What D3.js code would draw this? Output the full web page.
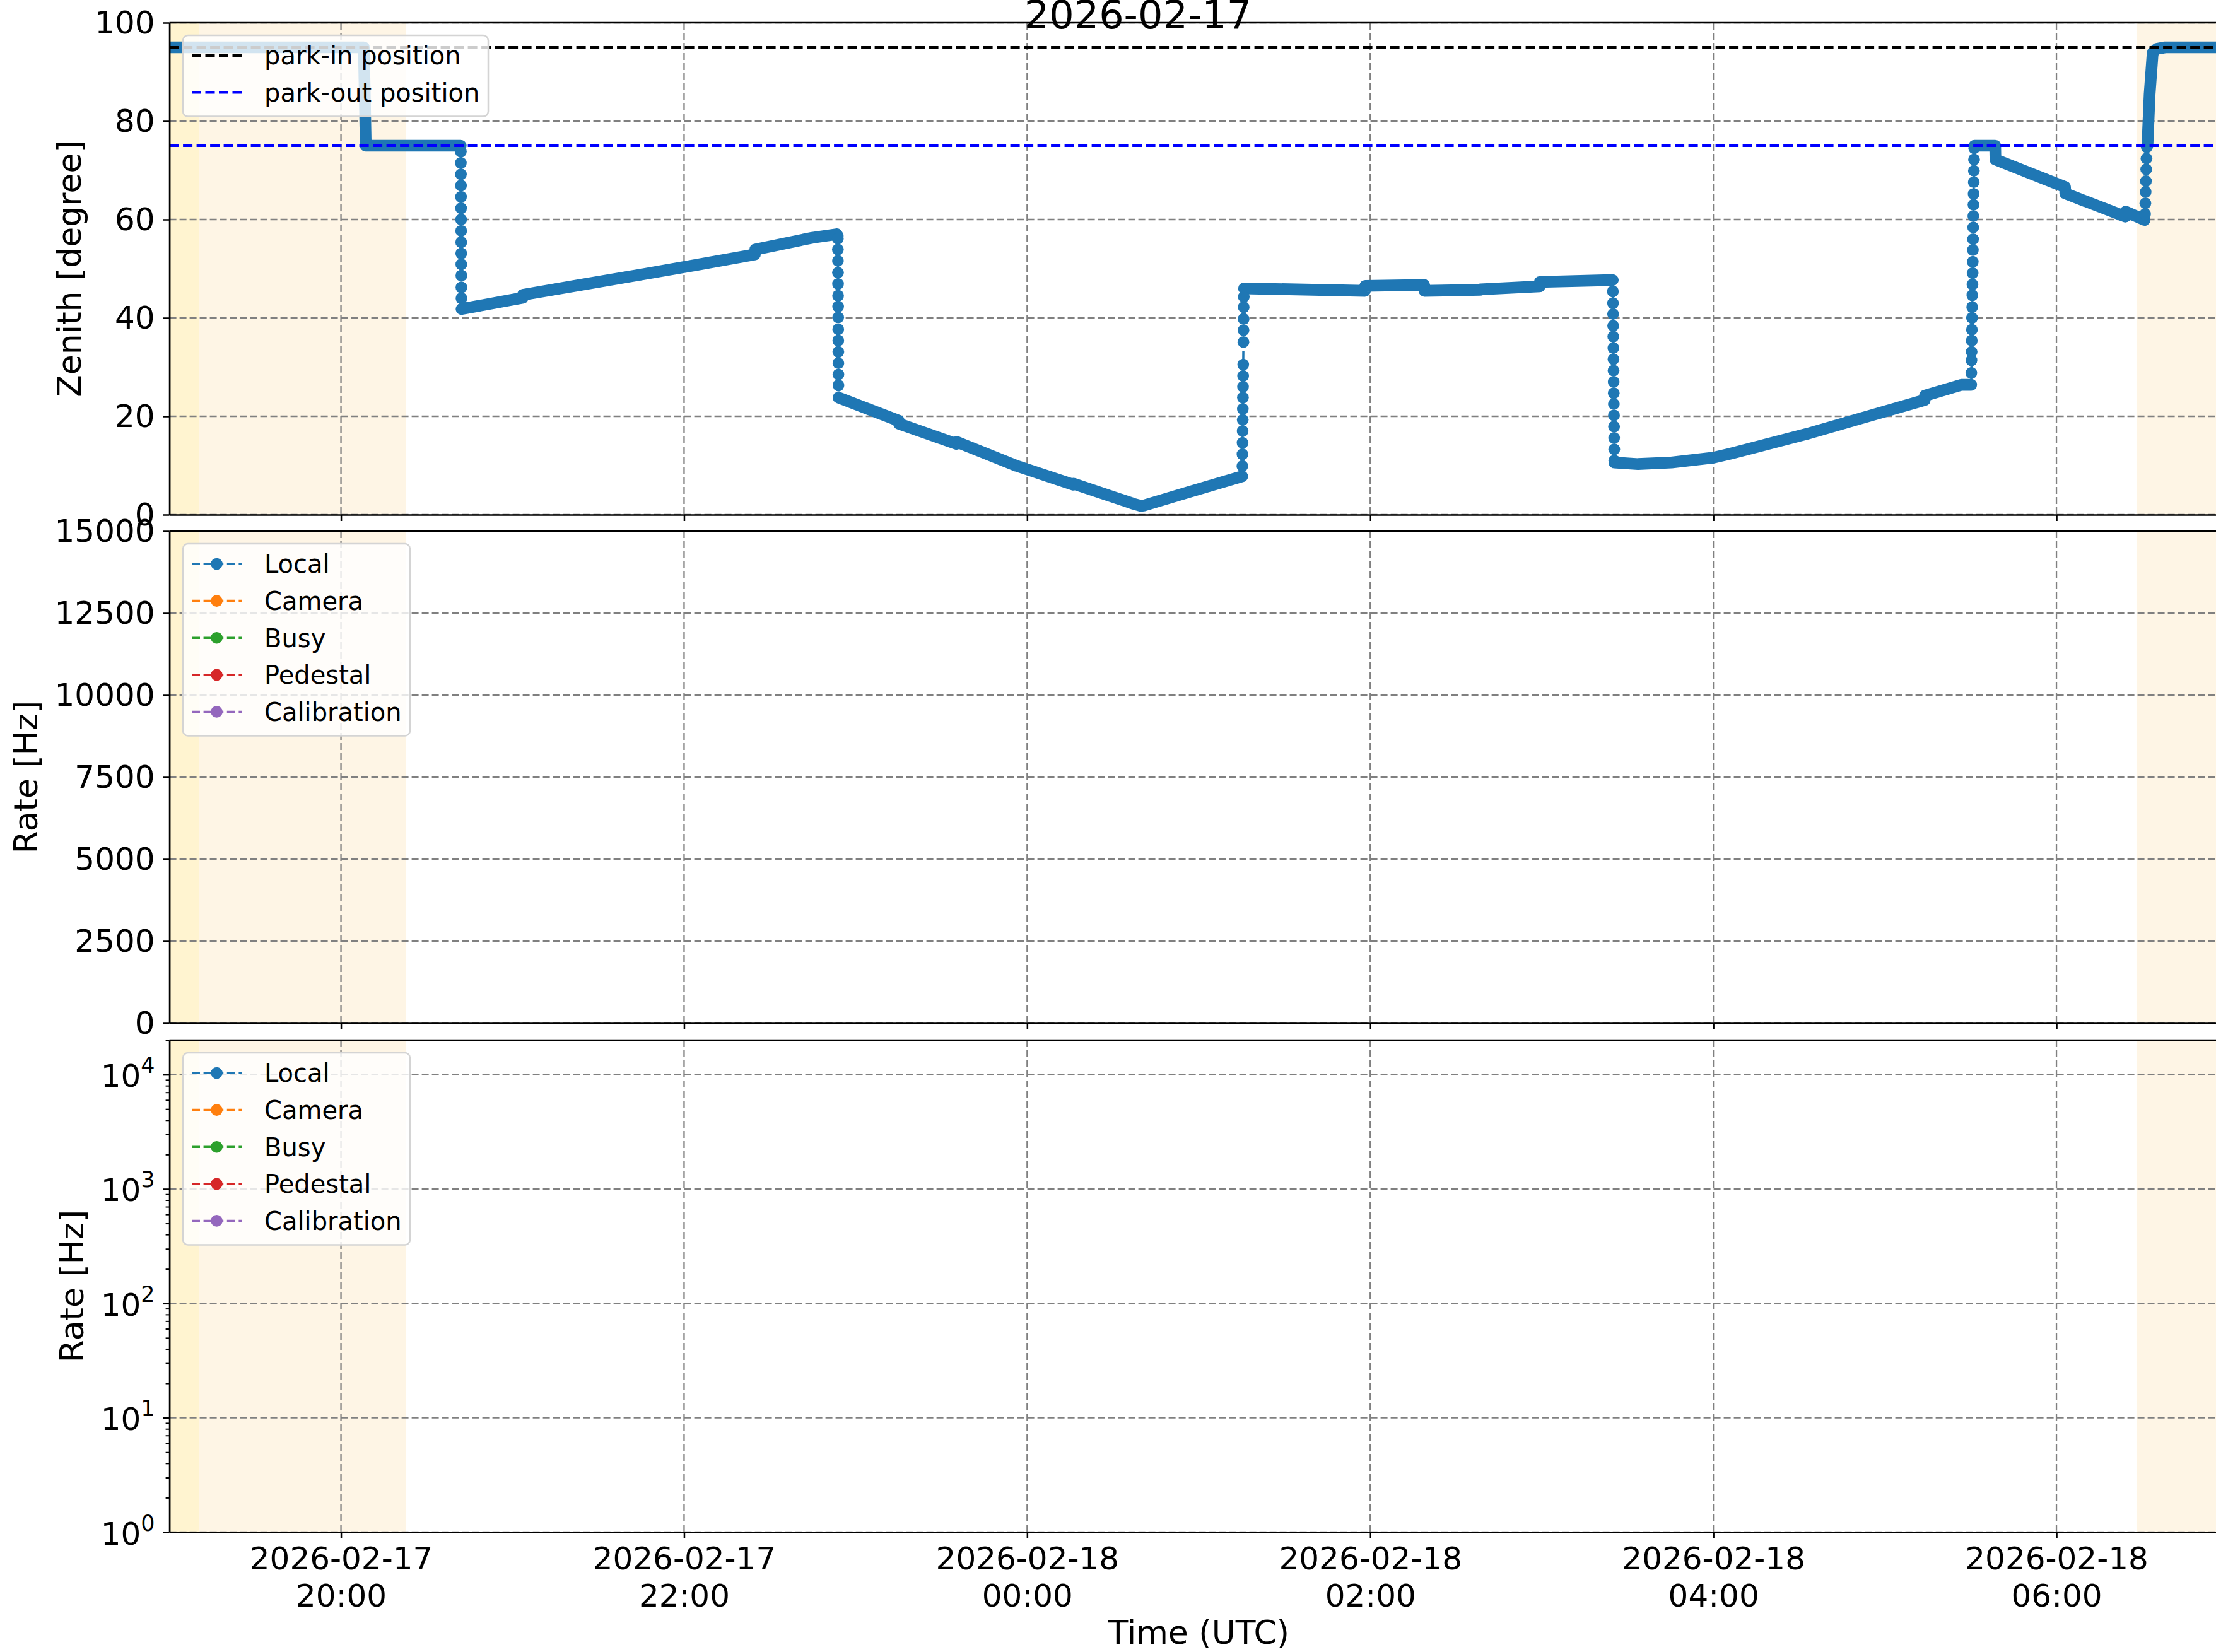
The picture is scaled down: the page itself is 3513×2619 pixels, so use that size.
<!DOCTYPE html>
<html>
<head>
<meta charset="utf-8">
<script src="https://cdn.jsdelivr.net/npm/d3@7"></script>
<style>
  body { margin: 0; background: #fff; }
  svg { display: block; }
</style>
</head>
<body>
<div id="chart"></div>
<script>
// ---- data ----
const titleText = "2026-02-17";
const parkIn = 95, parkOut = 75;

// zenith samples: time (UTC, evening = 02-17, morning = 02-18), degree, slew flag (1 = isolated slew sample)
const zenTime = [
  "18:55:00","20:08:00","20:08:40","20:41:53",
  "20:41:55","20:41:56","20:41:57","20:41:58","20:41:59","20:42:00","20:42:01","20:42:02","20:42:03","20:42:04","20:42:05","20:42:06","20:42:07","20:42:08",
  "20:42:10","21:03:32","21:03:40","21:23:42","21:43:55","22:04:37","22:24:47","22:24:55","22:44:56","22:53:20","22:53:45",
  "22:53:47","22:53:48","22:53:49","22:53:50","22:53:51","22:53:52","22:53:53","22:53:54","22:53:55","22:53:56","22:53:57","22:53:58","22:53:59","22:54:00",
  "22:54:02","23:15:04","23:15:10","23:35:17","23:35:25","23:56:28","00:16:08","00:16:15","00:37:19","00:39:47","00:41:00","00:56:31","01:15:14",
  "01:15:16","01:15:18","01:15:20","01:15:22","01:15:24","01:15:26","01:15:28","01:15:30","01:15:32","01:15:34","01:15:38","01:15:40","01:15:42","01:15:44","01:15:46",
  "01:15:50","01:58:08","01:58:15","02:18:50","02:18:58","02:38:31","02:38:38","02:59:13","02:59:20","03:24:50",
  "03:24:52","03:24:54","03:24:56","03:24:58","03:25:00","03:25:02","03:25:04","03:25:06","03:25:08","03:25:10","03:25:12","03:25:14","03:25:16","03:25:18","03:25:20","03:25:22",
  "03:25:24","03:33:40","03:45:18","04:00:04","04:06:00","04:32:35","04:52:16","05:13:55","05:14:02","05:26:46","05:30:11",
  "05:30:14","05:30:17","05:30:20","05:30:23","05:30:26","05:30:29","05:30:32","05:30:35","05:30:38","05:30:41","05:30:44","05:30:47","05:30:50","05:30:53","05:30:56","05:30:59","05:31:02","05:31:05","05:31:08","05:31:11","05:31:14",
  "05:31:16","05:38:35","05:38:40","06:03:00","06:03:06","06:24:07","06:24:12","06:30:50",
  "06:31:00","06:31:06","06:31:12","06:31:18","06:31:24","06:31:30","06:31:36",
  "06:31:50","06:32:35","06:33:40","06:35:06","06:37:59","07:10:00"
];
const zenDeg = [
  95, 95, 75, 75,
  73.8, 71.5, 69.2, 66.9, 64.6, 62.3, 60.0, 57.7, 55.4, 53.1, 50.9, 48.6, 46.2, 44.0,
  41.8, 44.1, 44.7, 46.7, 48.7, 50.8, 52.9, 53.9, 56.3, 57.0, 56.7,
  56.1, 53.9, 51.6, 49.2, 46.9, 44.5, 42.3, 40.1, 37.7, 35.4, 33.1, 30.8, 28.5, 26.3,
  23.8, 19.1, 18.5, 14.4, 14.8, 9.9, 6.1, 6.3, 2.2, 1.8, 1.9, 4.6, 7.8,
  9.9, 12.3, 14.6, 17.0, 19.3, 21.5, 23.8, 26.0, 28.2, 30.5, 35.1, 37.5, 39.8, 42.2, 44.3,
  46.0, 45.5, 46.5, 46.7, 45.5, 45.7, 45.8, 46.4, 47.3, 47.7,
  45.4, 43.0, 40.8, 38.4, 36.2, 33.9, 31.6, 29.3, 27.0, 24.7, 22.5, 20.2, 17.9, 15.6, 13.3, 11.0,
  10.6, 10.3, 10.6, 11.6, 12.4, 16.4, 19.7, 23.3, 24.2, 26.4, 26.4,
  28.8, 31.4, 33.1, 35.4, 37.6, 40.0, 42.2, 44.6, 46.8, 49.1, 51.4, 53.8, 56.0, 58.4, 60.7, 63.0, 65.2, 67.6, 69.9, 72.2, 74.5,
  75.0, 75.0, 72.2, 66.6, 65.3, 60.6, 61.6, 59.9,
  61.1, 63.3, 65.6, 67.8, 70.2, 72.4, 74.7,
  75.0, 85.4, 93.9, 94.7, 95.0, 95.0
];
const zenSlew = [
  0,0,0,0,
  1,1,1,1,1,1,1,1,1,1,1,1,1,1,
  0,0,0,0,0,0,0,0,0,0,0,
  1,1,1,1,1,1,1,1,1,1,1,1,1,1,
  0,0,0,0,0,0,0,0,0,0,0,0,0,
  1,1,1,1,1,1,1,1,1,1,1,1,1,1,1,
  0,0,0,0,0,0,0,0,0,0,
  1,1,1,1,1,1,1,1,1,1,1,1,1,1,1,1,
  0,0,0,0,0,0,0,0,0,0,0,
  1,1,1,1,1,1,1,1,1,1,1,1,1,1,1,1,1,1,1,1,1,
  0,0,0,0,0,0,0,0,
  1,1,1,1,1,1,1,
  0,0,0,0,0,0
];

// rate series (no samples in this night)
const rateNames = ["Local", "Camera", "Busy", "Pedestal", "Calibration"];
const rateColors = ["#1f77b4", "#ff7f0e", "#2ca02c", "#d62728", "#9467bd"];
const rateTime = [];
const rateValues = [[], [], [], [], []];

// twilight shading
const bandStart = ["18:50:00", "19:10:25", "06:28:00"];
const bandEnd   = ["19:10:25", "20:22:36", "07:10:00"];
const bandColor = ["#fff4d0", "#fef5e5", "#fef5e5"];

const xTicks = ["20:00", "22:00", "00:00", "02:00", "04:00", "06:00"];
const zenTicks = [0, 20, 40, 60, 80, 100];
const rateTicks = [0, 2500, 5000, 7500, 10000, 12500, 15000];
const logTicks = [1, 10, 100, 1000, 10000];
const logMinor = [2,3,4,5,6,7,8,9,20,30,40,50,60,70,80,90,200,300,400,500,600,700,800,900,2000,3000,4000,5000,6000,7000,8000,9000,20000];

// ---- layout ----
const W = 3513, H = 2619;
const FONT = "DejaVu Sans";
const plotLeft = 268.6, plotRight = 3532;
const panelTop = [36, 842, 1649], panelH = 780;

function parseT(s) {
  const p = s.split(":").map(Number);
  const day = p[0] < 12 ? 18 : 17;
  return new Date(Date.UTC(2026, 1, day, p[0], p[1], p[2] || 0));
}

const svg = d3.select("#chart").append("svg")
  .attr("width", W).attr("height", H)
  .style("font-family", FONT);

const x = d3.scaleUtc()
  .domain([parseT("19:00"), parseT("07:00")])
  .range([plotLeft, plotRight]);

const yZen = d3.scaleLinear().domain([0, 100]).range([panelTop[0] + panelH, panelTop[0]]);
const yRate = d3.scaleLinear().domain([0, 15000]).range([panelTop[1] + panelH, panelTop[1]]);
const yLog = d3.scaleLog().domain([1, 20000]).range([panelTop[2] + panelH, panelTop[2]]);
const yScales = [yZen, yRate, yLog];
const yGrid = [zenTicks, rateTicks, logTicks];

const defs = svg.append("defs");

function legend(g, top, width, names, colors, dashes, marker) {
  const lg = g.append("g").attr("transform", `translate(290,${top + 20})`);
  lg.append("rect")
    .attr("x", 0).attr("y", 0)
    .attr("width", width).attr("height", 32 + (names.length - 1) * 58.6 + 38)
    .attr("rx", 8)
    .attr("fill", "#fff").attr("fill-opacity", 0.8)
    .attr("stroke", "#d4d4d4").attr("stroke-width", 2.5);
  names.forEach((n, i) => {
    const cy = 32 + i * 58.6;
    lg.append("line")
      .attr("x1", 14).attr("x2", 93).attr("y1", cy).attr("y2", cy)
      .attr("stroke", colors[i])
      .attr("stroke-width", marker ? 3.5 : 4)
      .attr("stroke-dasharray", dashes);
    if (marker) {
      lg.append("circle").attr("cx", 53.5).attr("cy", cy).attr("r", 9.3).attr("fill", colors[i]);
    }
    lg.append("text")
      .attr("x", 129).attr("y", cy).attr("dy", "0.36em")
      .attr("font-size", 40)
      .text(n);
  });
}

yScales.forEach((y, p) => {
  const top = panelTop[p], bottom = top + panelH;

  defs.append("clipPath").attr("id", "clip" + p)
    .append("rect")
    .attr("x", plotLeft).attr("y", top)
    .attr("width", plotRight - plotLeft).attr("height", panelH);

  const g = svg.append("g").attr("clip-path", `url(#clip${p})`);

  // shading
  g.selectAll("rect.band")
    .data(bandStart)
    .join("rect")
    .attr("class", "band")
    .attr("x", (d, i) => x(parseT(d)))
    .attr("width", (d, i) => x(parseT(bandEnd[i])) - x(parseT(d)))
    .attr("y", top).attr("height", panelH)
    .attr("fill", (d, i) => bandColor[i]);

  // grid
  g.selectAll("line.vgrid")
    .data(xTicks)
    .join("line")
    .attr("x1", d => x(parseT(d))).attr("x2", d => x(parseT(d)))
    .attr("y1", top).attr("y2", bottom)
    .attr("stroke", "#808080").attr("stroke-width", 2.3)
    .attr("stroke-dasharray", "11,5");
  g.selectAll("line.hgrid")
    .data(yGrid[p])
    .join("line")
    .attr("x1", plotLeft).attr("x2", plotRight)
    .attr("y1", d => y(d)).attr("y2", d => y(d))
    .attr("stroke", "#808080").attr("stroke-width", 2.3)
    .attr("stroke-dasharray", "11,5");

  if (p === 0) {
    const idx = d3.range(zenTime.length);
    // thin connector
    g.append("path")
      .datum(idx)
      .attr("fill", "none")
      .attr("stroke", "#1f77b4").attr("stroke-width", 3.5)
      .attr("stroke-dasharray", "13,5.6")
      .attr("d", d3.line().x(i => x(parseT(zenTime[i]))).y(i => yZen(zenDeg[i])));
    // dense tracking runs
    const runs = [];
    let cur = [];
    idx.forEach(i => {
      if (zenSlew[i] === 0) cur.push(i);
      else { if (cur.length) runs.push(cur); cur = []; }
    });
    if (cur.length) runs.push(cur);
    g.selectAll("path.track")
      .data(runs)
      .join("path")
      .attr("class", "track")
      .attr("fill", "none")
      .attr("stroke", "#1f77b4").attr("stroke-width", 18.6)
      .attr("stroke-linecap", "round").attr("stroke-linejoin", "round")
      .attr("d", d3.line().x(i => x(parseT(zenTime[i]))).y(i => yZen(zenDeg[i])));
    // slew samples
    g.selectAll("circle.slew")
      .data(idx.filter(i => zenSlew[i] === 1))
      .join("circle")
      .attr("class", "slew")
      .attr("cx", i => x(parseT(zenTime[i])))
      .attr("cy", i => yZen(zenDeg[i]))
      .attr("r", 9.3)
      .attr("fill", "#1f77b4");
    // park positions
    [[parkIn, "#000000"], [parkOut, "#0000ff"]].forEach(([v, c]) => {
      g.append("line")
        .attr("x1", plotLeft).attr("x2", plotRight)
        .attr("y1", yZen(v)).attr("y2", yZen(v))
        .attr("stroke", c).attr("stroke-width", 4)
        .attr("stroke-dasharray", "15,6.5");
    });
    legend(svg, top, 484, ["park-in position", "park-out position"], ["#000000", "#0000ff"], "15,6.5", false);
  } else {
    rateNames.forEach((n, k) => {
      g.append("path")
        .datum(rateValues[k])
        .attr("fill", "none")
        .attr("stroke", rateColors[k]).attr("stroke-width", 3.5)
        .attr("stroke-dasharray", "13,5.6")
        .attr("d", d3.line().x((v, j) => x(rateTime[j])).y(v => y(v)));
    });
    legend(svg, top, 360, rateNames, rateColors, "13,5.6", true);
  }

  // y axis
  const yAxis = d3.axisLeft(y).tickSize(10).tickPadding(13).tickSizeOuter(0);
  if (p === 2) yAxis.tickValues(logTicks).tickFormat(() => "");
  else yAxis.tickValues(yGrid[p]).tickFormat(d3.format("d"));
  const gy = svg.append("g")
    .attr("transform", `translate(${plotLeft},0)`)
    .call(yAxis)
    .attr("font-size", 50).attr("font-family", FONT);
  gy.select(".domain").attr("stroke", "#000").attr("stroke-width", 2.7);
  gy.selectAll(".tick line").attr("stroke", "#000").attr("stroke-width", 2.5);
  gy.selectAll(".tick text").attr("fill", "#000");

  if (p === 2) {
    gy.selectAll(".tick").each(function (d) {
      const t = d3.select(this).append("text")
        .attr("x", -23).attr("y", 19)
        .attr("text-anchor", "end").attr("fill", "#000");
      t.append("tspan").text("10");
      t.append("tspan").attr("dy", -22).attr("font-size", 35).text(Math.round(Math.log10(d)));
    });
    const gm = svg.append("g")
      .attr("transform", `translate(${plotLeft},0)`)
      .call(d3.axisLeft(y).tickValues(logMinor).tickSize(6).tickSizeOuter(0).tickFormat(() => ""));
    gm.select(".domain").remove();
    gm.selectAll(".tick line").attr("stroke", "#000").attr("stroke-width", 2);
  }

  // x axis (labels only on the last panel)
  const xAxis = d3.axisBottom(x)
    .tickValues(xTicks.map(parseT))
    .tickSize(10).tickSizeOuter(0)
    .tickFormat(p === 2 ? d3.utcFormat("%H:%M") : () => "");
  const gx = svg.append("g")
    .attr("transform", `translate(0,${bottom})`)
    .call(xAxis)
    .attr("font-size", 50).attr("font-family", FONT);
  gx.select(".domain").attr("stroke", "#000").attr("stroke-width", 2.7);
  gx.selectAll(".tick line").attr("stroke", "#000").attr("stroke-width", 2.5);
  if (p === 2) {
    gx.selectAll(".tick text").each(function (d) {
      const t = d3.select(this).text(null).attr("dy", null).attr("fill", "#000");
      t.append("tspan").attr("x", 0).attr("y", 59).text(d3.utcFormat("%Y-%m-%d")(d));
      t.append("tspan").attr("x", 0).attr("y", 118).text(d3.utcFormat("%H:%M")(d));
    });
  }

  // top and right spines
  svg.append("line")
    .attr("x1", plotLeft).attr("x2", plotRight)
    .attr("y1", top).attr("y2", top)
    .attr("stroke", "#000").attr("stroke-width", 2.7);
  svg.append("line")
    .attr("x1", plotRight).attr("x2", plotRight)
    .attr("y1", top).attr("y2", bottom)
    .attr("stroke", "#000").attr("stroke-width", 2.7);
});

// axis titles
const yLabels = [["Zenith [degree]", 128], ["Rate [Hz]", 59], ["Rate [Hz]", 132]];
yLabels.forEach(([txt, lx], p) => {
  svg.append("text")
    .attr("transform", `translate(${lx},${panelTop[p] + panelH / 2}) rotate(-90)`)
    .attr("text-anchor", "middle")
    .attr("font-size", 52)
    .text(txt);
});

svg.append("text")
  .attr("x", (plotLeft + plotRight) / 2).attr("y", 2606)
  .attr("text-anchor", "middle")
  .attr("font-size", 52)
  .text("Time (UTC)");

svg.append("text")
  .attr("x", 1804).attr("y", 45)
  .attr("text-anchor", "middle")
  .attr("font-size", 62)
  .text(titleText);
</script>
</body>
</html>
